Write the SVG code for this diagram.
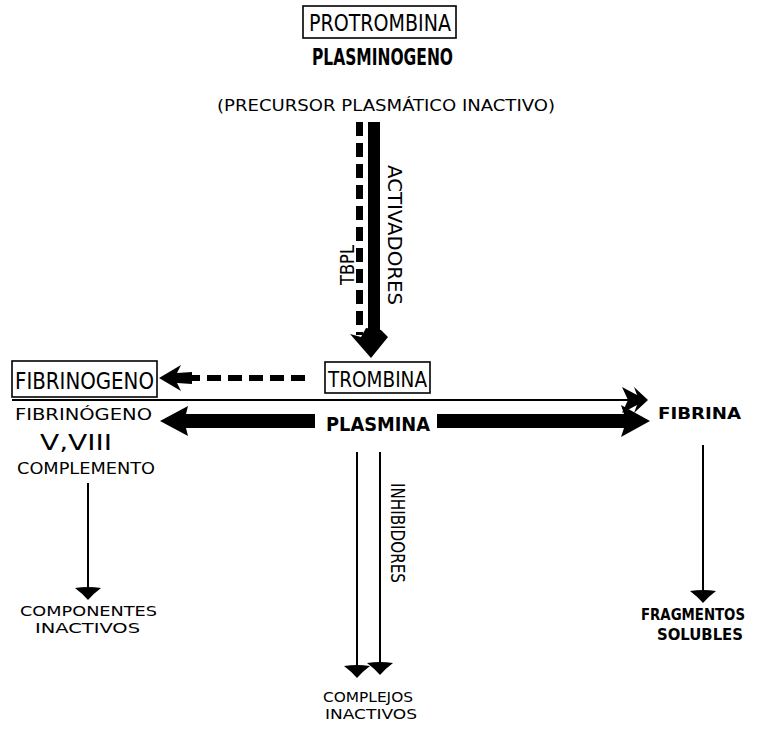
<svg xmlns="http://www.w3.org/2000/svg" width="758" height="738" viewBox="0 0 758 738">
<defs>
<style>
.t{font-family:"DejaVu Sans Condensed","Liberation Sans",sans-serif;fill:#000;}
.box{fill:#fff;stroke:#000;stroke-width:1.6;}
.thin{stroke:#000;stroke-width:2;fill:none;}
.dash{stroke:#000;fill:none;stroke-dasharray:14 7;}
.head{fill:#000;}
</style>
<path id="downHead" d="M0,0 Q-5,-6 -13,-12 Q0,-14 13,-12 Q5,-6 0,0 Z"/>
</defs>
<rect width="758" height="738" fill="#fff"/>

<g id="connectors">
  <!-- top vertical: activadores (solid thick) and TBPL (dashed) -->
  <rect x="368" y="122" width="12" height="215" fill="#000"/>
  <line class="dash" x1="359.5" y1="122" x2="359.5" y2="335" stroke-width="7"/>
  <path class="head" d="M371,358 L350,334 L361,337 L366,328 L381,330 L388,337 Z"/>
  <!-- dashed arrow to fibrinogeno box -->
  <line class="dash" x1="305" y1="378" x2="184" y2="378" stroke-width="6"/>
  <path class="head" d="M159,378 L181,365 L177,373 L192,372 L192,384 L177,383 L181,391 Z"/>
  <!-- thin line to fibrina -->
  <line class="thin" x1="12" y1="400" x2="630" y2="400"/>
  <path class="head" d="M648,400 L634,387 L637,395 L622,387 L628,400 L622,413 L637,405 L634,413 Z"/>
  <!-- thick arrows from plasmina -->
  <path class="head" d="M315,414 L186,414 L188,406 L160,421 L188,436 L186,428 L315,428 Z"/>
  <path class="head" d="M437,414 L624,414 L621,405 L650,421 L621,437 L624,428 L437,428 Z"/>
  <!-- left down -->
  <line class="thin" x1="88" y1="483" x2="88" y2="590"/>
  <use href="#downHead" x="88" y="600"/>
  <!-- center down -->
  <line class="thin" x1="357" y1="452" x2="357" y2="667"/>
  <use href="#downHead" x="357" y="678"/>
  <line class="thin" x1="380" y1="452" x2="380" y2="664"/>
  <use href="#downHead" x="380" y="675"/>
  <!-- right down -->
  <line class="thin" x1="703" y1="445" x2="703" y2="592"/>
  <use href="#downHead" x="703" y="603"/>
</g>

<g id="protrombina">
  <rect class="box" x="303" y="6" width="153" height="32"/>
  <text class="t" x="309" y="31" font-size="23" textLength="142" lengthAdjust="spacingAndGlyphs">PROTROMBINA</text>
</g>
<g id="plasminogeno">
  <text class="t" x="312" y="65" font-size="23" font-weight="bold" textLength="141" lengthAdjust="spacingAndGlyphs">PLASMINOGENO</text>
  <text class="t" x="217" y="111" font-size="15" textLength="338" lengthAdjust="spacingAndGlyphs">(PRECURSOR PLASMÁTICO INACTIVO)</text>
</g>
<g id="activadores">
  <text class="t" transform="translate(388,165) rotate(90)" font-size="20" textLength="140" lengthAdjust="spacingAndGlyphs">ACTIVADORES</text>
</g>
<g id="tbpl">
  <text class="t" transform="translate(354,285) rotate(-90)" font-size="20" textLength="40" lengthAdjust="spacingAndGlyphs">TBPL</text>
</g>
<g id="fibrinogeno-box">
  <rect class="box" x="12" y="361" width="145" height="36"/>
  <text class="t" x="15" y="389" font-size="23" textLength="139" lengthAdjust="spacingAndGlyphs">FIBRINOGENO</text>
</g>
<g id="trombina">
  <rect class="box" x="325" y="362" width="105" height="31"/>
  <text class="t" x="328" y="387" font-size="22" textLength="99" lengthAdjust="spacingAndGlyphs">TROMBINA</text>
</g>
<g id="plasmina">
  <text class="t" x="326" y="431" font-size="20" font-weight="bold" textLength="104" lengthAdjust="spacingAndGlyphs">PLASMINA</text>
</g>
<g id="fibrina">
  <text class="t" x="658" y="419" font-size="16" font-weight="bold" textLength="83" lengthAdjust="spacingAndGlyphs">FIBRINA</text>
</g>
<g id="sustratos">
  <text class="t" x="15" y="420" font-size="16" textLength="137" lengthAdjust="spacingAndGlyphs">FIBRINÓGENO</text>
  <text class="t" x="40" y="450" font-size="21" textLength="72" lengthAdjust="spacingAndGlyphs">V,VIII</text>
  <text class="t" x="17" y="474" font-size="16" textLength="138" lengthAdjust="spacingAndGlyphs">COMPLEMENTO</text>
</g>
<g id="inhibidores">
  <text class="t" transform="translate(391,483) rotate(90)" font-size="19" textLength="100" lengthAdjust="spacingAndGlyphs">INHIBIDORES</text>
</g>
<g id="componentes">
  <text class="t" x="20" y="616" font-size="13.5" textLength="137" lengthAdjust="spacingAndGlyphs">COMPONENTES</text>
  <text class="t" x="35" y="633" font-size="13.5" textLength="105" lengthAdjust="spacingAndGlyphs">INACTIVOS</text>
</g>
<g id="complejos">
  <text class="t" x="323" y="702" font-size="13.5" textLength="90" lengthAdjust="spacingAndGlyphs">COMPLEJOS</text>
  <text class="t" x="325" y="719" font-size="13.5" textLength="92" lengthAdjust="spacingAndGlyphs">INACTIVOS</text>
</g>
<g id="fragmentos">
  <text class="t" x="641" y="620" font-size="15" font-weight="bold" textLength="104" lengthAdjust="spacingAndGlyphs">FRAGMENTOS</text>
  <text class="t" x="657" y="640" font-size="15" font-weight="bold" textLength="86" lengthAdjust="spacingAndGlyphs">SOLUBLES</text>
</g>
</svg>
